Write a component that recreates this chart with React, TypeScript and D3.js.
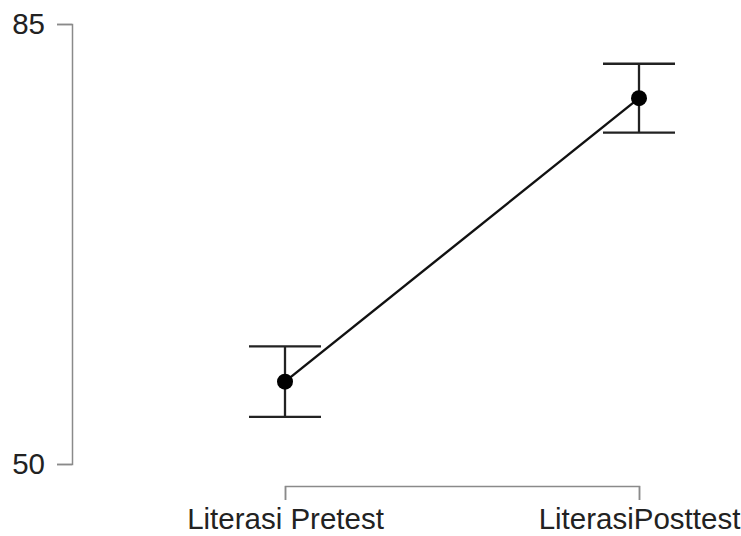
// App.tsx
import * as d3 from "d3";
import React, { useRef, useEffect } from "react";

const categories = ["Literasi Pretest", "LiterasiPosttest"];
const means = [56.55, 79.1];
const lower = [53.75, 76.36];
const upper = [59.35, 81.84];
const yTicks = [50, 85];

function App() {
  const ref = useRef<SVGSVGElement>(null);

  useEffect(() => {
    const svg = d3.select(ref.current);
    svg.selectAll("*").remove();

    const yScale = d3.scaleLinear().domain([50, 85]).range([464, 24]);
    const xScale = d3.scalePoint().domain(categories).range([285, 639]);

    const font = "'Liberation Sans', Arial, sans-serif";
    const fontSize = 29.5;

    // y axis
    const yAxis = d3.axisLeft(yScale).tickValues(yTicks).tickSize(15).tickPadding(12);
    const gy = svg.append("g").attr("transform", "translate(72,0)").call(yAxis);
    gy.selectAll("path, line").attr("stroke", "#8a8a8a").attr("stroke-width", 1.5);
    gy.selectAll("text")
      .attr("font-size", fontSize)
      .attr("font-family", font)
      .attr("fill", "#222");

    // x axis
    const xAxis = d3.axisBottom(xScale).tickSize(14).tickPadding(13);
    const gx = svg.append("g").attr("transform", "translate(0,486)").call(xAxis);
    gx.selectAll("path, line").attr("stroke", "#8a8a8a").attr("stroke-width", 1.5);
    gx.selectAll("text")
      .attr("font-size", fontSize)
      .attr("font-family", font)
      .attr("fill", "#222")
      .attr("dy", null)
      .attr("y", 43);

    // error bars
    const capHalf = 36;
    const eb = svg.append("g").attr("stroke", "#222").attr("stroke-width", 2.3);
    categories.forEach((c, i) => {
      const x = xScale(c) as number;
      eb.append("line")
        .attr("x1", x).attr("x2", x)
        .attr("y1", yScale(lower[i])).attr("y2", yScale(upper[i]));
      eb.append("line")
        .attr("x1", x - capHalf).attr("x2", x + capHalf)
        .attr("y1", yScale(lower[i])).attr("y2", yScale(lower[i]));
      eb.append("line")
        .attr("x1", x - capHalf).attr("x2", x + capHalf)
        .attr("y1", yScale(upper[i])).attr("y2", yScale(upper[i]));
    });

    // line through means
    const line = d3
      .line<number>()
      .x((d, i) => xScale(categories[i]) as number)
      .y((d) => yScale(d));
    svg.append("path")
      .attr("d", line(means))
      .attr("fill", "none")
      .attr("stroke", "#111")
      .attr("stroke-width", 2.4);

    // points
    svg.selectAll(".pt")
      .data(means)
      .enter()
      .append("circle")
      .attr("class", "pt")
      .attr("cx", (d, i) => xScale(categories[i]) as number)
      .attr("cy", (d) => yScale(d))
      .attr("r", 8)
      .attr("fill", "#000");
  }, []);

  return (
    <svg
      ref={ref}
      width={741}
      height={536}
      style={{ position: "absolute", left: 0, top: 0, background: "#fff" }}
    ></svg>
  );
}

export default App;
